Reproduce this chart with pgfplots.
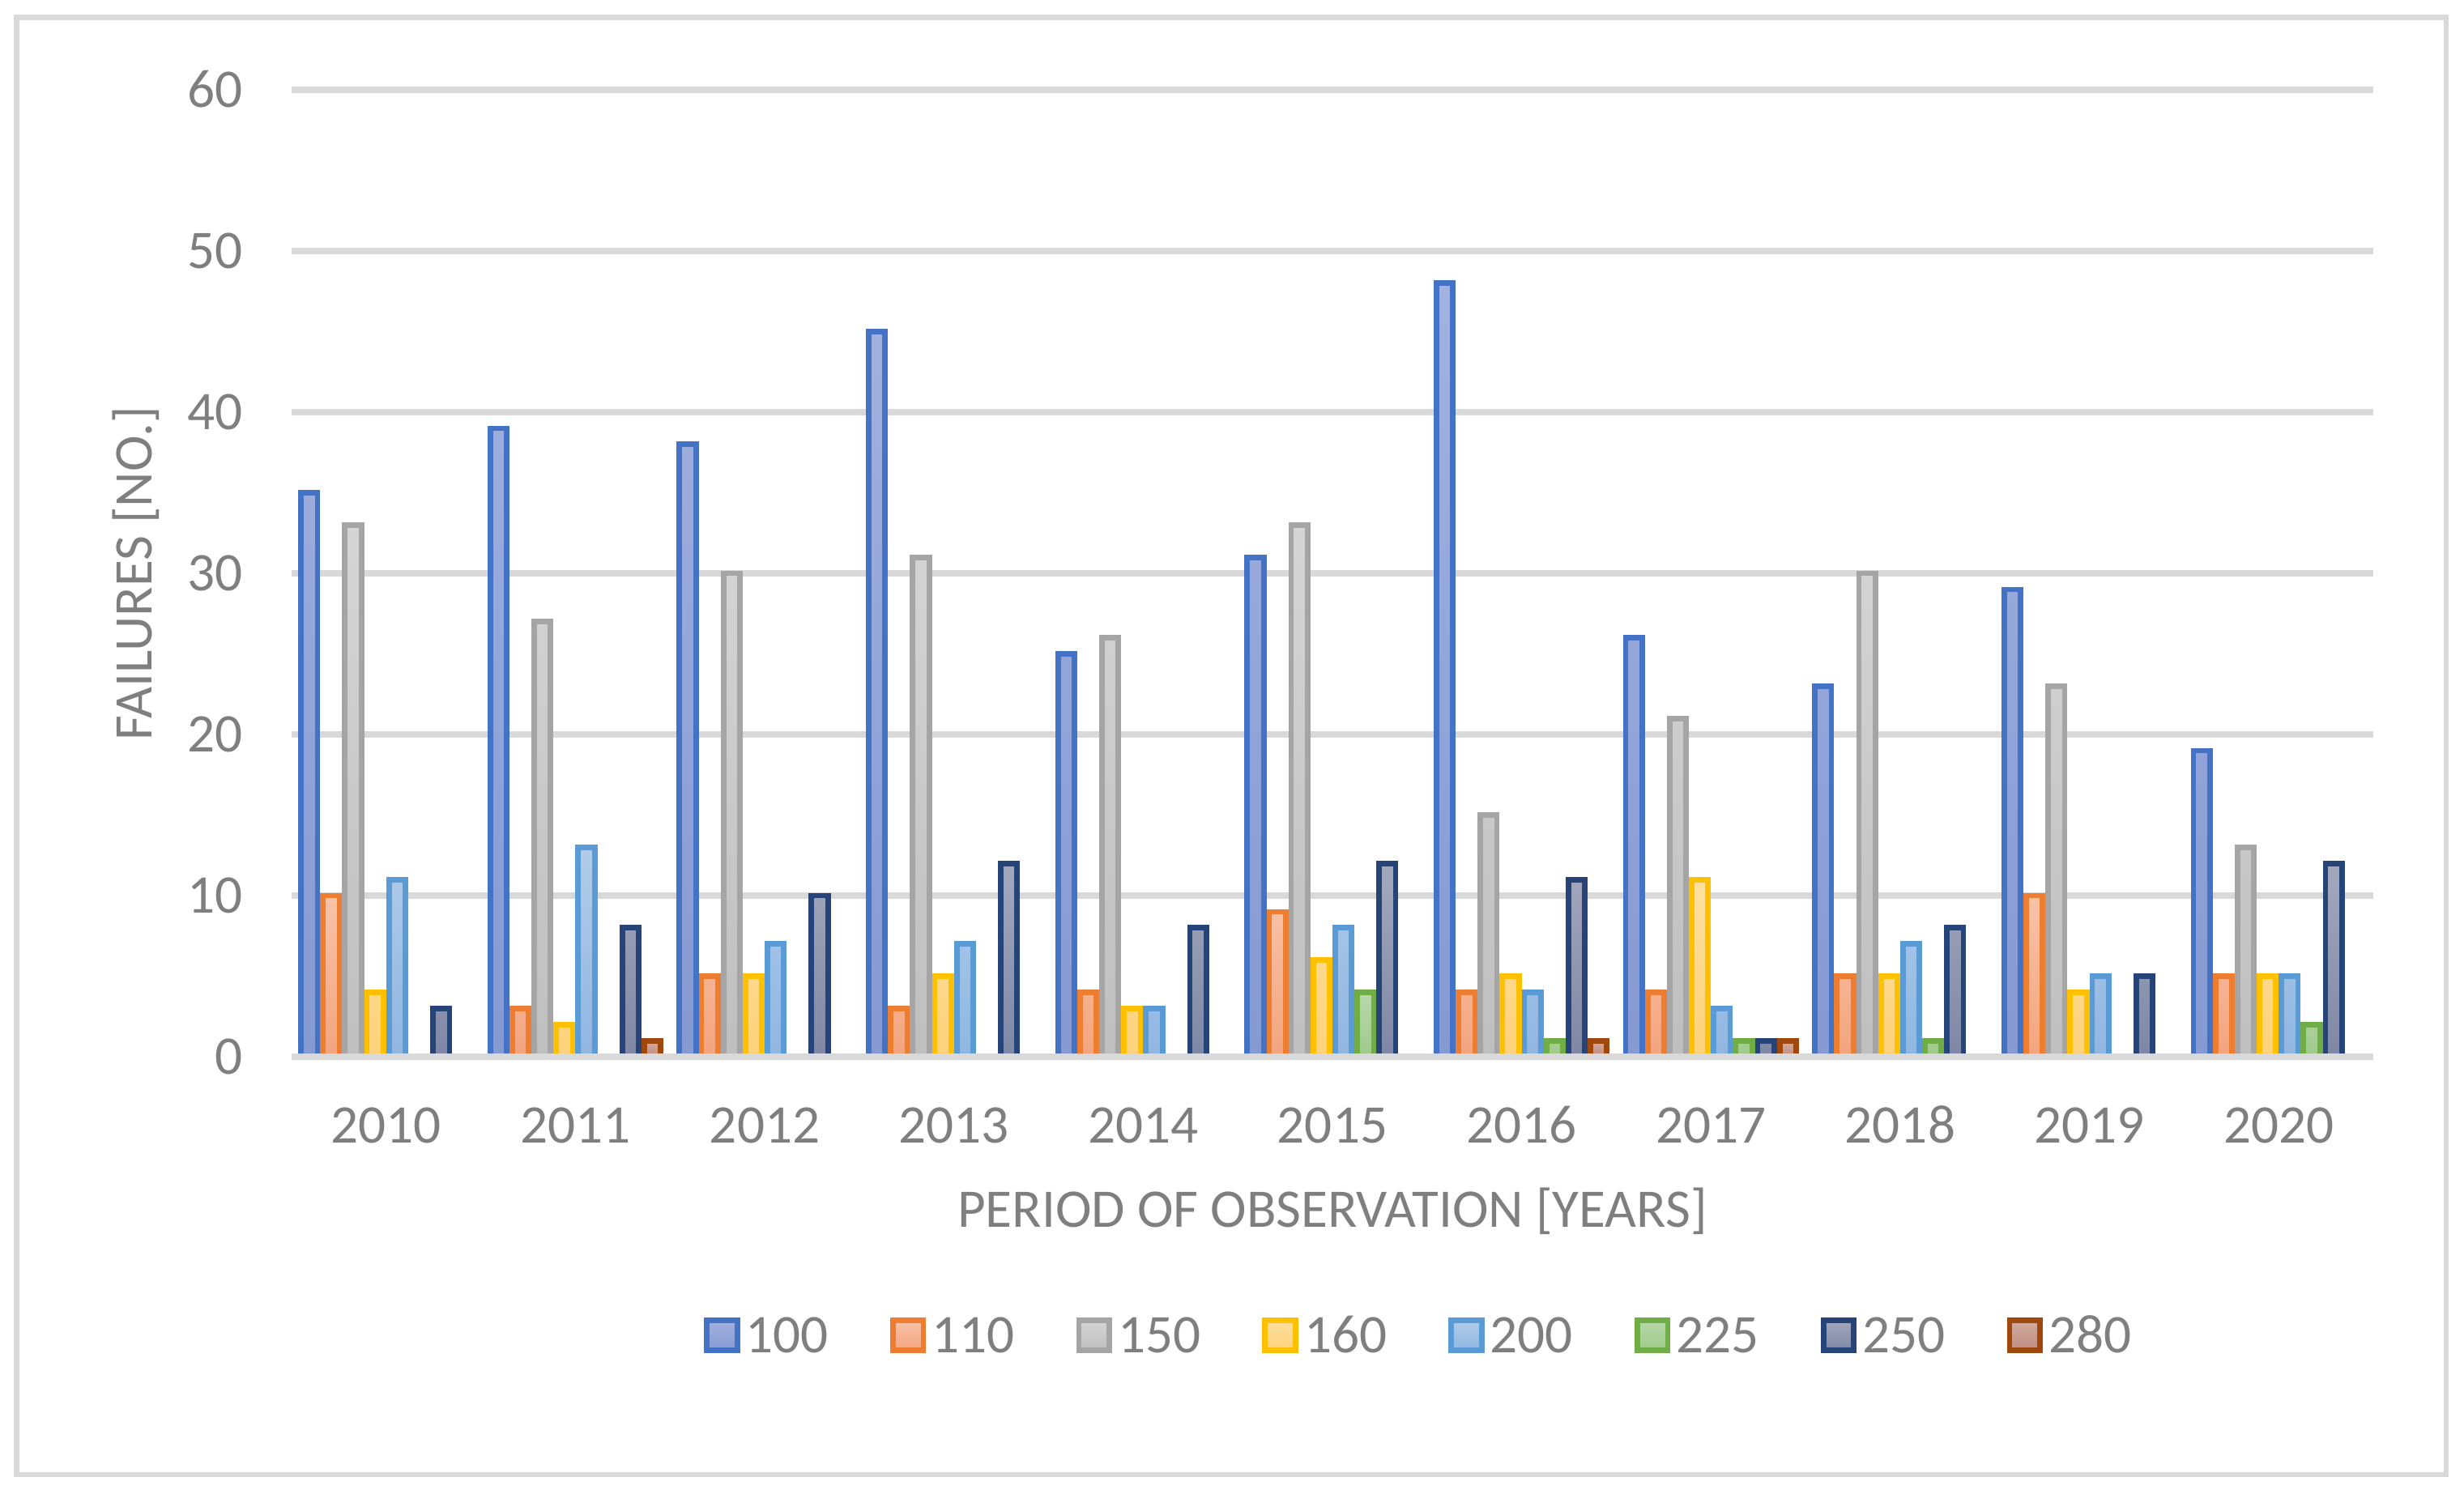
\documentclass[border=0pt]{standalone}
\usepackage{fontspec}
\setmainfont{Carlito}[Numbers={Lining,Monospaced}]
\usepackage{pgfplots}
\pgfplotsset{compat=1.18}
\definecolor{txt}{HTML}{7F7F7F}
\definecolor{gridc}{HTML}{D9D9D9}
\definecolor{cA}{HTML}{4472C4}\definecolor{cAt}{HTML}{A3B2DF}\definecolor{cAb}{HTML}{8599D3}
\definecolor{cB}{HTML}{ED7D31}\definecolor{cBt}{HTML}{F8C3A9}\definecolor{cBb}{HTML}{F4A47E}
\definecolor{cC}{HTML}{A5A5A5}\definecolor{cCt}{HTML}{D5D5D5}\definecolor{cCb}{HTML}{BFBFBF}
\definecolor{cD}{HTML}{FFC000}\definecolor{cDt}{HTML}{FFE09F}\definecolor{cDb}{HTML}{FDD27A}
\definecolor{cE}{HTML}{5B9BD5}\definecolor{cEt}{HTML}{B1CCEA}\definecolor{cEb}{HTML}{90B6E1}
\definecolor{cF}{HTML}{70AD47}\definecolor{cFt}{HTML}{B8D8AA}\definecolor{cFb}{HTML}{9FCA8A}
\definecolor{cG}{HTML}{264478}\definecolor{cGt}{HTML}{A3A9BD}\definecolor{cGb}{HTML}{7E87A5}
\definecolor{cH}{HTML}{9E480E}\definecolor{cHt}{HTML}{D3ACA0}\definecolor{cHb}{HTML}{BE8C7E}
\newcommand{\fs}{\fontsize{16.8}{20}\selectfont}
\pgfplotsset{
  bs/.style n args={3}{draw=#1, top color=#2, bottom color=#3, line width=1.7pt,
    legend image code/.code={\draw[draw=#1,top color=#2,bottom color=#3,line width=1.7pt] (0pt,-4.7pt) rectangle (9.4pt,4.7pt);}},
}
\begin{document}
\begin{tikzpicture}[x=1pt,y=1pt]
\path[use as bounding box] (0,0) rectangle (760.5,461);
\draw[gridc, line width=1.6pt] (5.125,5.75) rectangle (755,455.6);
\begin{axis}[
  at={(90pt,134.75pt)}, anchor=south west,
  scale only axis, width=642.5pt, height=298.5pt,
  xmin=-0.5, xmax=10.5, ymin=0, ymax=60,
  ybar=1.7pt, bar width=5.09pt,
  clip=false,
  xtick={0,1,2,3,4,5,6,7,8,9,10},
  xticklabels={2010,2011,2012,2013,2014,2015,2016,2017,2018,2019,2020},
  ytick={0,10,20,30,40,50,60},
  ymajorgrids, grid style={gridc, line width=2pt},
  axis line style={draw=none},
  major tick length=0pt, tick style={draw=none},
  /pgf/number format/assume math mode=true,
  tick label style={font=\fs, text=txt, inner sep=0pt, text height=10.6pt, text depth=0pt},
  yticklabel style={anchor=east, xshift=-15pt},
  xticklabel style={anchor=north, yshift=-15.75pt},
  xlabel={PERIOD OF OBSERVATION [YEARS]},
  xlabel style={at={(axis description cs:0.5,-0.1767)}, anchor=base, font=\fs, text=txt, inner sep=0pt},
  ylabel={FAILURES [NO.]},
  ylabel style={at={(axis description cs:-0.0673,0.5)}, anchor=base, rotate=0, font=\fs, text=txt, inner sep=0pt},
  legend columns=8,
  legend style={at={(axis description cs:0.1981,-0.2881)}, anchor=west, draw=none, fill=none,
    inner sep=0pt, outer sep=0pt, font=\fs, text=txt, column sep=0pt,
    nodes={inner sep=0pt, text height=10.6pt, text depth=0pt},
    /tikz/every odd column/.append style={column sep=1.8pt},
    /tikz/every even column/.append style={column sep=19pt}},
  legend cell align=left,
]
\addplot[bs={cA}{cAt}{cAb}] coordinates {(0,35)(1,39)(2,38)(3,45)(4,25)(5,31)(6,48)(7,26)(8,23)(9,29)(10,19)};
\addplot[bs={cB}{cBt}{cBb}] coordinates {(0,10)(1,3)(2,5)(3,3)(4,4)(5,9)(6,4)(7,4)(8,5)(9,10)(10,5)};
\addplot[bs={cC}{cCt}{cCb}] coordinates {(0,33)(1,27)(2,30)(3,31)(4,26)(5,33)(6,15)(7,21)(8,30)(9,23)(10,13)};
\addplot[bs={cD}{cDt}{cDb}] coordinates {(0,4)(1,2)(2,5)(3,5)(4,3)(5,6)(6,5)(7,11)(8,5)(9,4)(10,5)};
\addplot[bs={cE}{cEt}{cEb}] coordinates {(0,11)(1,13)(2,7)(3,7)(4,3)(5,8)(6,4)(7,3)(8,7)(9,5)(10,5)};
\addplot[bs={cF}{cFt}{cFb}] coordinates {(5,4)(6,1)(7,1)(8,1)(10,2)};
\addplot[bs={cG}{cGt}{cGb}] coordinates {(0,3)(1,8)(2,10)(3,12)(4,8)(5,12)(6,11)(7,1)(8,8)(9,5)(10,12)};
\addplot[bs={cH}{cHt}{cHb}] coordinates {(1,1)(6,1)(7,1)};
\legend{100,110,150,160,200,225,250,280}
\draw[gridc, line width=2pt] (axis cs:-0.5,0) -- (axis cs:10.5,0);
\end{axis}
\end{tikzpicture}
\end{document}
